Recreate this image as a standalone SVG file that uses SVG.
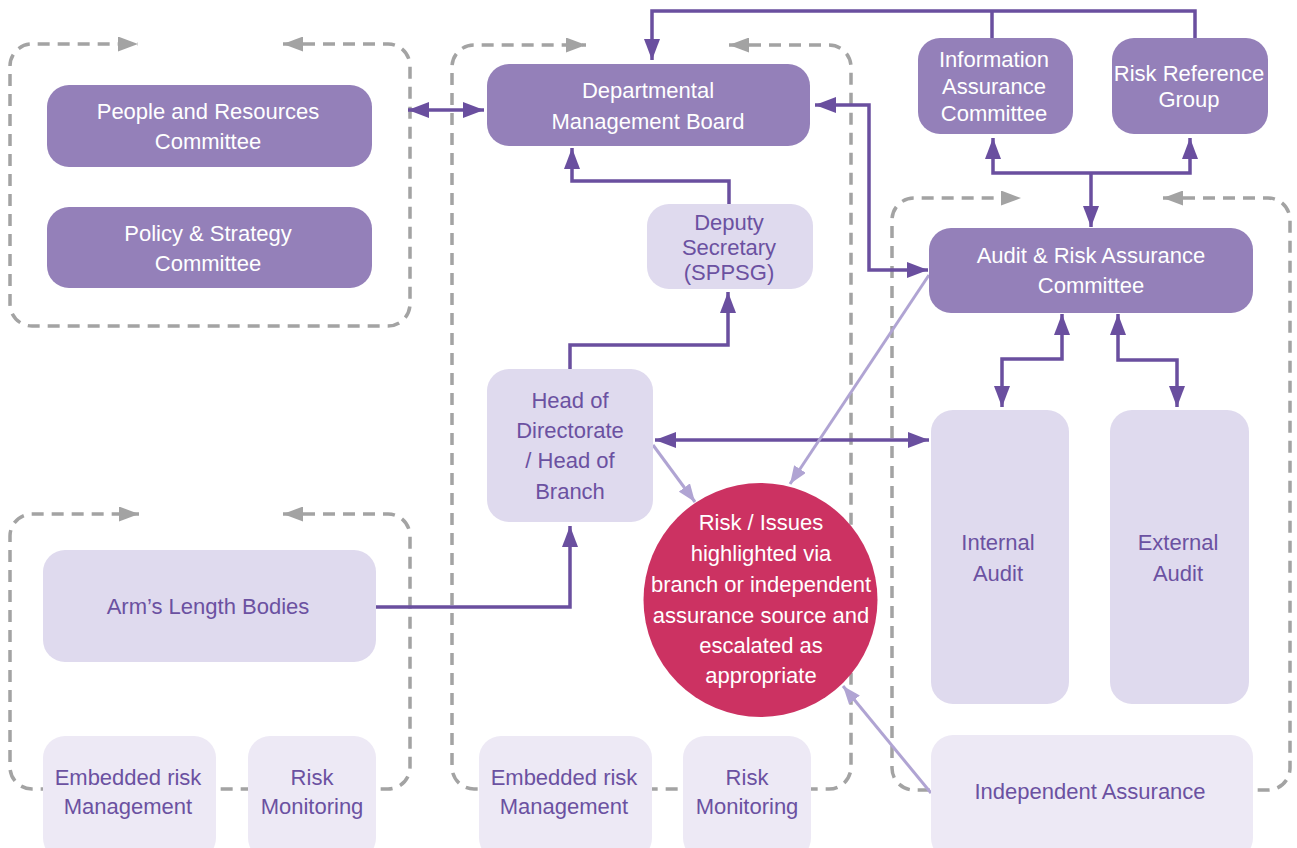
<svg xmlns="http://www.w3.org/2000/svg" width="1297" height="848" viewBox="0 0 1297 848">
<defs>
<style>
.frame{fill:none;stroke:#a3a3a3;stroke-width:3.5;stroke-dasharray:12 8;marker-start:url(#ga);marker-end:url(#ga)}
.dk{fill:#9480b9}
.lt{fill:#dfdaee}
.lr{fill:#ede9f5}
.c{fill:none;stroke:#6a4f9f;stroke-width:3.5}
.cl{fill:none;stroke:#b0a4d3;stroke-width:3}
text{font-family:"Liberation Sans",Arial,Helvetica,sans-serif;font-size:22px;text-anchor:middle}
.w{fill:#ffffff}
.p{fill:#6b51a1}
</style>
<marker id="ga" markerUnits="userSpaceOnUse" viewBox="0 0 20 15" refX="20" refY="7.5" markerWidth="20" markerHeight="15" orient="auto-start-reverse"><path d="M0,0 L20,7.5 L0,15 z" fill="#a3a3a3"/></marker>
<marker id="da" markerUnits="userSpaceOnUse" viewBox="0 0 21 16" refX="21" refY="8" markerWidth="21" markerHeight="16" orient="auto-start-reverse"><path d="M0,0 L21,8 L0,16 z" fill="#6a4f9f"/></marker>
<marker id="la" markerUnits="userSpaceOnUse" viewBox="0 0 18 14" refX="18" refY="7" markerWidth="18" markerHeight="14" orient="auto-start-reverse"><path d="M0,0 L18,7 L0,14 z" fill="#b0a4d3"/></marker>
</defs>
<rect x="0" y="0" width="1297" height="848" fill="#ffffff"/>

<g id="frames">
<path class="frame" d="M283 44 H388 A22 22 0 0 1 410 66 V304 A22 22 0 0 1 388 326 H32 A22 22 0 0 1 10 304 V66 A22 22 0 0 1 32 44 H138"/>
<path class="frame" d="M729 45 H829 A22 22 0 0 1 851 67 V767 A22 22 0 0 1 829 789 H474 A22 22 0 0 1 452 767 V67 A22 22 0 0 1 474 45 H586"/>
<path class="frame" d="M1163 198 H1268 A22 22 0 0 1 1290 220 V768 A22 22 0 0 1 1268 790 H914 A22 22 0 0 1 892 768 V220 A22 22 0 0 1 914 198 H1021"/>
<path class="frame" d="M283 514 H388 A22 22 0 0 1 410 536 V767 A22 22 0 0 1 388 789 H32 A22 22 0 0 1 10 767 V536 A22 22 0 0 1 32 514 H139"/>
</g>

<g id="connectors">
<path class="c" d="M1195 38 V11 H652 V60" marker-end="url(#da)"/>
<path class="c" d="M992 38 V11"/>
<path class="c" d="M408 110 H484" marker-start="url(#da)" marker-end="url(#da)"/>
<path class="c" d="M815 105 H869 V270 H928" marker-start="url(#da)" marker-end="url(#da)"/>
<path class="c" d="M729 204 V181 H572 V148" marker-end="url(#da)"/>
<path class="c" d="M570 369 V345 H728 V292" marker-end="url(#da)"/>
<path class="c" d="M376 607 H570 V526" marker-end="url(#da)"/>
<path class="c" d="M655 440 H929" marker-start="url(#da)" marker-end="url(#da)"/>
<path class="c" d="M993 138 V173 H1190 V138" marker-start="url(#da)" marker-end="url(#da)"/>
<path class="c" d="M1091 173 V227" marker-end="url(#da)"/>
<path class="c" d="M1062 314 V359 H1002 V407" marker-start="url(#da)" marker-end="url(#da)"/>
<path class="c" d="M1118 314 V360 H1177 V407" marker-start="url(#da)" marker-end="url(#da)"/>
<path class="cl" d="M653 445 L695 502" marker-end="url(#la)"/>
<path class="cl" d="M929 275 L790 484" marker-end="url(#la)"/>
<path class="cl" d="M931 793 L843 686" marker-end="url(#la)"/>
</g>

<g id="people-resources">
<rect class="dk" x="47" y="85" width="325" height="82" rx="22"/>
<text class="w" x="208" y="119">People and Resources</text>
<text class="w" x="208" y="149">Committee</text>
</g>
<g id="policy-strategy">
<rect class="dk" x="47" y="207" width="325" height="81" rx="22"/>
<text class="w" x="208" y="241">Policy &amp; Strategy</text>
<text class="w" x="208" y="271">Committee</text>
</g>
<g id="dmb">
<rect class="dk" x="487" y="64" width="323" height="82" rx="22"/>
<text class="w" x="648" y="98">Departmental</text>
<text class="w" x="648" y="129">Management Board</text>
</g>
<g id="deputy-secretary">
<rect class="lt" x="647" y="204" width="166" height="85" rx="22"/>
<text class="p" x="729" y="230">Deputy</text>
<text class="p" x="729" y="255">Secretary</text>
<text class="p" x="729" y="280">(SPPSG)</text>
</g>
<g id="info-assurance">
<rect class="dk" x="918" y="38" width="155" height="96" rx="22"/>
<text class="w" x="994" y="67">Information</text>
<text class="w" x="994" y="94">Assurance</text>
<text class="w" x="994" y="121">Committee</text>
</g>
<g id="risk-reference">
<rect class="dk" x="1112" y="38" width="156" height="96" rx="22"/>
<text class="w" x="1189" y="81">Risk Reference</text>
<text class="w" x="1189" y="107">Group</text>
</g>
<g id="arac">
<rect class="dk" x="929" y="228" width="324" height="85" rx="22"/>
<text class="w" x="1091" y="263">Audit &amp; Risk Assurance</text>
<text class="w" x="1091" y="293">Committee</text>
</g>
<g id="head-directorate">
<rect class="lt" x="487" y="369" width="166" height="153" rx="22"/>
<text class="p" x="570" y="408">Head of</text>
<text class="p" x="570" y="438">Directorate</text>
<text class="p" x="570" y="468">/ Head of</text>
<text class="p" x="570" y="499">Branch</text>
</g>
<g id="risk-issues">
<circle cx="760.5" cy="600" r="117" fill="#cc3262"/>
<text class="w" x="761" y="530">Risk / Issues</text>
<text class="w" x="761" y="561">highlighted via</text>
<text class="w" x="761" y="592">branch or independent</text>
<text class="w" x="761" y="623">assurance source and</text>
<text class="w" x="761" y="653">escalated as</text>
<text class="w" x="761" y="683">appropriate</text>
</g>
<g id="internal-audit">
<rect class="lt" x="931" y="410" width="138" height="294" rx="22"/>
<text class="p" x="998" y="550">Internal</text>
<text class="p" x="998" y="581">Audit</text>
</g>
<g id="external-audit">
<rect class="lt" x="1110" y="410" width="139" height="294" rx="22"/>
<text class="p" x="1178" y="550">External</text>
<text class="p" x="1178" y="581">Audit</text>
</g>
<g id="independent-assurance">
<rect class="lr" x="931" y="735" width="322" height="125" rx="22"/>
<text class="p" x="1090" y="799">Independent Assurance</text>
</g>
<g id="alb">
<rect class="lt" x="43" y="550" width="333" height="112" rx="22"/>
<text class="p" x="208" y="614">Arm’s Length Bodies</text>
</g>
<g id="embedded-left">
<rect class="lr" x="43" y="736" width="173" height="124" rx="22"/>
<text class="p" x="128" y="785">Embedded risk</text>
<text class="p" x="128" y="814">Management</text>
</g>
<g id="monitoring-left">
<rect class="lr" x="248" y="736" width="128" height="124" rx="22"/>
<text class="p" x="312" y="785">Risk</text>
<text class="p" x="312" y="814">Monitoring</text>
</g>
<g id="embedded-mid">
<rect class="lr" x="479" y="736" width="173" height="124" rx="22"/>
<text class="p" x="564" y="785">Embedded risk</text>
<text class="p" x="564" y="814">Management</text>
</g>
<g id="monitoring-mid">
<rect class="lr" x="683" y="736" width="128" height="124" rx="22"/>
<text class="p" x="747" y="785">Risk</text>
<text class="p" x="747" y="814">Monitoring</text>
</g>
</svg>
